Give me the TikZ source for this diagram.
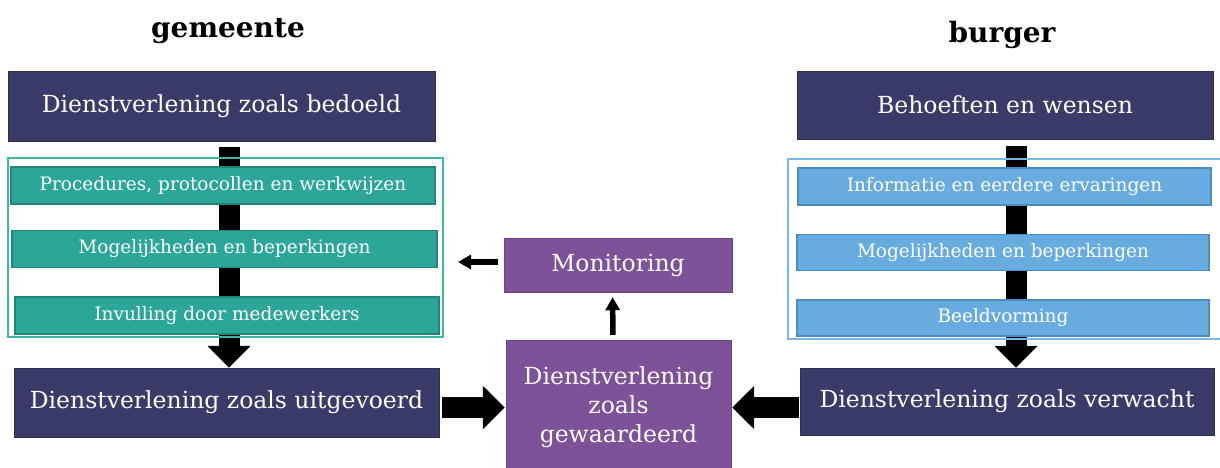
\documentclass[tikz,border=0pt]{standalone}
\usepackage{fontspec}
\setmainfont{DejaVu Serif}
\usetikzlibrary{positioning, arrows.meta}
\definecolor{navy}{HTML}{3A3B68}
\definecolor{navyline}{HTML}{2C2E52}
\definecolor{teal}{HTML}{2BA698}
\definecolor{tealline}{HTML}{21857A}
\definecolor{tealframe}{HTML}{3DB4A4}
\definecolor{sky}{HTML}{68ACDF}
\definecolor{skyline}{HTML}{4E8BBE}
\definecolor{skyframe}{HTML}{78B6E3}
\definecolor{plum}{HTML}{7E5299}
\definecolor{plumline}{HTML}{6A4384}

\begin{document}
\begin{tikzpicture}[
    x=1pt, y=-1pt,
    mainbox/.style={rectangle, draw=navyline, fill=navy, text=white, inner sep=0pt, font=\fontsize{23.5}{28}\selectfont},
    subbox/.style={rectangle, line width=1.5pt, text=white, inner sep=0pt, minimum height=37pt, font=\fontsize{18.5}{22}\selectfont},
    evalbox/.style={rectangle, draw=plumline, fill=plum, text=white, inner sep=0pt, align=center, font=\fontsize{23.5}{29}\selectfont},
    side/.style={font=\bfseries\fontsize{28}{32}\selectfont, anchor=base},
    bigarrow/.style={line width=21pt, -{Triangle[width=42pt, length=22pt]}},
    smallarrow/.style={line width=5.5pt, -{Triangle[width=14pt, length=13pt]}}
]
    \useasboundingbox (0,0) rectangle (1220,467);

    % gemeente
    \node[side] (gem) at (228,37) {gemeente};
    \node[mainbox, minimum width=427pt, minimum height=70pt] (bedoeld) at (221.5,106) {Dienstverlening zoals bedoeld};
    \node[mainbox, minimum width=425pt, minimum height=69pt] (uitgevoerd) at (226.5,402.5) {Dienstverlening zoals uitgevoerd};
    \draw[bigarrow, shorten <=6pt] ([xshift=7.5pt]bedoeld.south) -- ([xshift=2.5pt]uitgevoerd.north);
    \draw[tealframe, line width=2pt] (8,158) rectangle (443,337);
    \node[subbox, draw=tealline, fill=teal, minimum width=424pt, below=25pt of bedoeld, xshift=1.5pt] (proc) {Procedures, protocollen en werkwijzen};
    \node[subbox, draw=tealline, fill=teal, minimum width=425pt, below=25pt of proc, xshift=1.5pt] (mogg) {Mogelijkheden en beperkingen};
    \node[subbox, draw=tealline, fill=teal, minimum width=424pt, below=28pt of mogg, xshift=2.5pt] (invul) {Invulling door medewerkers};

    % burger
    \node[side] (burg) at (1002,42) {burger};
    \node[mainbox, minimum width=416pt, minimum height=68pt] (behoeften) at (1005,105) {Behoeften en wensen};
    \node[mainbox, minimum width=414pt, minimum height=67pt] (verwacht) at (1007,401.5) {Dienstverlening zoals verwacht};
    \draw[bigarrow, shorten <=7pt] ([xshift=11pt]behoeften.south) -- ([xshift=9pt]verwacht.north);
    \draw[skyframe, line width=2pt] (788,159) rectangle (1240,339);
    \node[subbox, draw=skyline, fill=sky, minimum width=413pt, below=28pt of behoeften, xshift=-0.5pt] (info) {Informatie en eerdere ervaringen};
    \node[subbox, draw=skyline, fill=sky, minimum width=412pt, minimum height=36pt, below=28pt of info, xshift=-1.5pt] (mogb) {Mogelijkheden en beperkingen};
    \node[subbox, draw=skyline, fill=sky, minimum width=412pt, minimum height=36pt, below=28pt of mogb] (beeld) {Beeldvorming};

    % midden
    \node[evalbox, minimum width=228pt, minimum height=54pt] (mon) at (618,265) {Monitoring};
    \node[evalbox, minimum width=225pt, minimum height=134pt] (gewaard) at (618.5,407) {Dienstverlening\\zoals\\gewaardeerd};
    \coordinate (terug) at (458,262);

    \draw[bigarrow, shorten <=3pt, shorten >=1pt] (uitgevoerd.east |- 0,407.5) -- (gewaard.west |- 0,407.5);
    \draw[bigarrow, shorten <=1pt, shorten >=1pt] (verwacht.west |- 0,407.5) -- (gewaard.east |- 0,407.5);
    \draw[smallarrow, shorten <=5pt, shorten >=5pt] ([xshift=-5.5pt]gewaard.north) -- ([xshift=-5.5pt]mon.south);
    \draw[smallarrow, shorten <=6pt] ([yshift=3pt]mon.west) -- (terug);

\end{tikzpicture}
\end{document}
